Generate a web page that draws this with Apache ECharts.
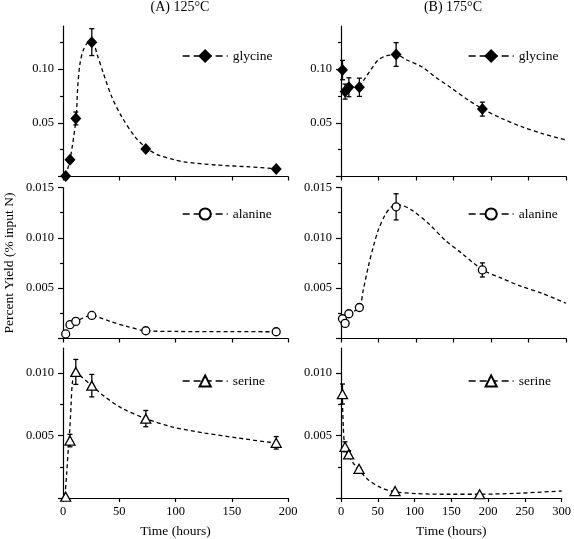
<!DOCTYPE html>
<html>
<head>
<meta charset="utf-8">
<script src="https://cdn.jsdelivr.net/npm/echarts@6/dist/echarts.min.js"></script>
<style>
html,body{margin:0;padding:0;background:#fff;}
#chart{width:574px;height:539px;}
</style>
</head>
<body>
<div id="chart"></div>
<script>
// ---- data ----
const panelTitles = ['(A) 125°C', '(B) 175°C'];
const xTicksA = [0, 50, 100, 150, 200];
const xTicksB = [0, 50, 100, 150, 200, 250, 300];
const yTicksGly = [0.05, 0.10];
const yTicksAla = [0.005, 0.010, 0.015];
const yTicksSer = [0.005, 0.010];

const timesA = [2.4, 6.2, 11.4, 25.6, 73.6, 189.5];
const timesB = [2, 5.5, 10.5, 24.5, 73.5, 188.5];

const glycineA    = [0.0005, 0.0155, 0.054, 0.125, 0.0255, 0.007];
const glycineAErr = [0, 0.002, 0.006, 0.0125, 0.002, 0];
const glycineB    = [0.099, 0.079, 0.083, 0.083, 0.1135, 0.0627];
const glycineBErr = [0.009, 0.007, 0.0088, 0.0085, 0.011, 0.0065];

const alanineA    = [0.00045, 0.00137, 0.0017, 0.00229, 0.00077, 0.00067];
const alanineAErr = [0, 0, 0, 0, 0, 0];
const alanineB    = [0.00196, 0.0015, 0.00246, 0.00308, 0.01308, 0.00681];
const alanineBErr = [0, 0, 0, 0, 0.0013, 0.0007];

const serineA     = [0.0001, 0.0046, 0.0101, 0.009, 0.00636, 0.00442];
const serineAErr  = [0, 0.0005, 0.001, 0.0009, 0.00065, 0.0005];
const serineB     = [0.00833, 0.0041, 0.00349, 0.00234, 0.00056, 0.0003];
const serineBErr  = [0.0008, 0.0004, 0.0003, 0.0001, 0, 0];

// fitted (dashed) curves as [hours, yield]
const glycineACurve = [[2.4,0.0005],[4.7,0.009],[6.4,0.0159],[11.6,0.054],[13.1,0.0835],[15.1,0.105],[18.1,0.1177],[22.5,0.1245],[27,0.124],[30,0.1146],[35.9,0.096],[43.3,0.0742],[52.2,0.0556],[64,0.037],[74.5,0.0262],[84.8,0.0199],[98,0.0159],[107,0.0137],[136.7,0.0106],[166,0.009],[189.5,0.0072]];
const glycineBCurve = [[24.4,0.0835],[32,0.0913],[41,0.1006],[49.7,0.1084],[61,0.1124],[74.3,0.113],[87.6,0.1084],[107.6,0.1021],[125.3,0.0928],[147.6,0.082],[169.7,0.0711],[188.9,0.0628],[214,0.0541],[241,0.0463],[267.6,0.0401],[300,0.034]];
const alanineACurve = [[2.4,0.00045],[6.2,0.00137],[11.6,0.0017],[25.2,0.00229],[41.8,0.0017],[56.7,0.0012],[73.6,0.00077],[100,0.0007],[150,0.00068],[189.5,0.00067]];
const alanineBCurve = [[2,0.00196],[10.5,0.00246],[24.4,0.00308],[29.7,0.00483],[36.4,0.00714],[43.1,0.00912],[49.7,0.01077],[58.7,0.01226],[67.6,0.01308],[78.7,0.01325],[94.3,0.01275],[116.4,0.01144],[138.7,0.00978],[161,0.00847],[189,0.00681],[214,0.00599],[241,0.00516],[267.6,0.0045],[300,0.0035]];
const serineACurve = [[1.8,0.00016],[3.3,0.002],[4.7,0.0039],[5.5,0.0047],[7.1,0.0073],[8.3,0.0092],[10.7,0.0102],[16.6,0.0097],[25.5,0.009],[37.4,0.0081],[52.2,0.0072],[73.6,0.00636],[96.7,0.0057],[126.3,0.0052],[156,0.0048],[188.6,0.0044]];
const serineBCurve = [[1.7,0.00833],[3.1,0.00574],[5.3,0.0041],[9.7,0.00348],[16.4,0.00282],[24,0.00229],[36.4,0.00149],[54.3,0.00083],[72,0.00051],[103,0.00035],[147.6,0.0003],[187.6,0.0003],[236,0.00037],[300,0.00056]];

// ---- chart construction ----
const FONT = 'Liberation Serif';
const BLACK = '#000';

const panels = [
  {name:'glycine', t:timesA, v:glycineA, e:glycineAErr, c:glycineACurve, sym:'diamond', size:[11,12], fill:BLACK, xmax:200, ymax:0.14, ticks:yTicksGly, dec:2, left:63, top:26, h:150.5, legendLeft:182, xTicks:xTicksA, bottom:false},
  {name:'glycine', t:timesB, v:glycineB, e:glycineBErr, c:glycineBCurve, sym:'diamond', size:[11,12], fill:BLACK, xmax:300, ymax:0.14, ticks:yTicksGly, dec:2, left:341, top:26, h:150.5, legendLeft:468, xTicks:xTicksB, bottom:false},
  {name:'alanine', t:timesA, v:alanineA, e:alanineAErr, c:alanineACurve, sym:'circle', size:8, fill:'#fff', xmax:200, ymax:0.015, ticks:yTicksAla, dec:3, left:63, top:187.5, h:151, legendLeft:182, xTicks:xTicksA, bottom:false},
  {name:'alanine', t:timesB, v:alanineB, e:alanineBErr, c:alanineBCurve, sym:'circle', size:8, fill:'#fff', xmax:300, ymax:0.015, ticks:yTicksAla, dec:3, left:341, top:187.5, h:151, legendLeft:468, xTicks:xTicksB, bottom:false},
  {name:'serine', t:timesA, v:serineA, e:serineAErr, c:serineACurve, sym:'triangle', size:[10,9], fill:'#fff', xmax:200, ymax:0.012, ticks:yTicksSer, dec:3, left:63, top:348.2, h:150.5, legendLeft:182, xTicks:xTicksA, bottom:true},
  {name:'serine', t:timesB, v:serineB, e:serineBErr, c:serineBCurve, sym:'triangle', size:[10,9], fill:'#fff', xmax:300, ymax:0.012, ticks:yTicksSer, dec:3, left:341, top:348.2, h:150.5, legendLeft:468, xTicks:xTicksB, bottom:true}
];

const grids = [], xAxes = [], yAxes = [], series = [], legends = [];

function errRender(params, api) {
  const x = api.value(0), lo = api.value(1), hi = api.value(2);
  const p1 = api.coord([x, hi]);
  const p2 = api.coord([x, lo]);
  const w = 2.5;
  const st = {stroke: BLACK, lineWidth: 1.3};
  return {type:'group', children:[
    {type:'line', shape:{x1:p1[0], y1:p1[1], x2:p2[0], y2:p2[1]}, style:st},
    {type:'line', shape:{x1:p1[0]-w, y1:p1[1], x2:p1[0]+w, y2:p1[1]}, style:st},
    {type:'line', shape:{x1:p2[0]-w, y1:p2[1], x2:p2[0]+w, y2:p2[1]}, style:st}
  ]};
}

panels.forEach((p, i) => {
  grids.push({left:p.left, top:p.top, width:225, height:p.h, containLabel:false});
  xAxes.push({
    type:'value', gridIndex:i, min:0, max:p.xmax, interval:50,
    axisLine:{show:true, onZero:false, lineStyle:{color:BLACK, width:1.2}},
    axisTick:{show:true, inside:false, length:4, lineStyle:{color:BLACK, width:1.2}},
    axisLabel:{show:p.bottom, margin:7, color:BLACK, fontFamily:FONT, fontSize:12.5},
    splitLine:{show:false},
    name: p.bottom ? 'Time (hours)' : '',
    nameLocation:'middle', nameGap:26,
    nameTextStyle:{color:BLACK, fontFamily:FONT, fontSize:13.5}
  });
  const yName = (i === 2) ? 'Percent Yield (% input N)' : '';
  yAxes.push({
    type:'value', gridIndex:i, min:0, max:p.ymax,
    interval: p.ticks[0],
    axisLine:{show:true, onZero:false, lineStyle:{color:BLACK, width:1.2}},
    axisTick:{show:true, inside:false, length:5, customValues:[0].concat(p.ticks), lineStyle:{color:BLACK, width:1.2}},
    minorTick:{show:true, splitNumber:2, length:3, lineStyle:{color:BLACK, width:1.2}},
    axisLabel:{show:true, margin:9, customValues:p.ticks, color:BLACK, fontFamily:FONT, fontSize:12.5,
      formatter: v => Number(v).toFixed(p.dec)},
    splitLine:{show:false}, minorSplitLine:{show:false},
    name: yName, nameLocation:'middle', nameGap:47,
    nameTextStyle:{color:BLACK, fontFamily:FONT, fontSize:13.5}
  });
  // fitted dashed curve (legend entry)
  series.push({
    name:p.name, type:'line', xAxisIndex:i, yAxisIndex:i,
    data:p.c, smooth:0.3, symbol:p.sym, showSymbol:false, silent:true,
    lineStyle:{color:BLACK, width:1.3, type:[4,3]},
    itemStyle:{color:p.fill, borderColor:BLACK, borderWidth:1.3},
    z:2, animation:false
  });
  // error bars
  const errData = [];
  p.t.forEach((t, k) => { if (p.e[k] > 0) errData.push([t, p.v[k]-p.e[k], p.v[k]+p.e[k]]); });
  series.push({
    name:p.name + ' error', type:'custom', xAxisIndex:i, yAxisIndex:i,
    data:errData, renderItem:errRender, encode:{x:0, y:[1,2]}, z:3, silent:true, animation:false
  });
  // data points
  series.push({
    name:p.name + ' points', type:'scatter', xAxisIndex:i, yAxisIndex:i,
    data:p.t.map((t, k) => [t, p.v[k]]),
    symbol:p.sym, symbolSize:p.size,
    itemStyle:{color:p.fill, borderColor:BLACK, borderWidth: p.fill === BLACK ? 0 : 1.3, opacity:1},
    z:4, silent:true, animation:false
  });
  const cy = [56, 56, 214, 214, 381, 381][i];
  legends.push({
    show:true, left:p.legendLeft, top:cy - 7, padding:0,
    itemWidth:45, itemHeight:14, itemGap:0, selectedMode:false,
    data:[{name:p.name, lineStyle:{type:[7,4], width:1.3, color:BLACK}}],
    textStyle:{color:BLACK, fontFamily:FONT, fontSize:13.5}
  });
});

const chart = echarts.init(document.getElementById('chart'), null, {renderer:'canvas'});
chart.setOption({
  backgroundColor:'#fff',
  animation:false,
  title:[
    {text:panelTitles[0], left:180, top:0, textAlign:'center', padding:0,
     textStyle:{color:BLACK, fontFamily:FONT, fontSize:14, fontWeight:'normal'}},
    {text:panelTitles[1], left:453, top:0, textAlign:'center', padding:0,
     textStyle:{color:BLACK, fontFamily:FONT, fontSize:14, fontWeight:'normal'}}
  ],
  legend:legends,
  grid:grids,
  xAxis:xAxes,
  yAxis:yAxes,
  series:series
});
</script>
</body>
</html>
